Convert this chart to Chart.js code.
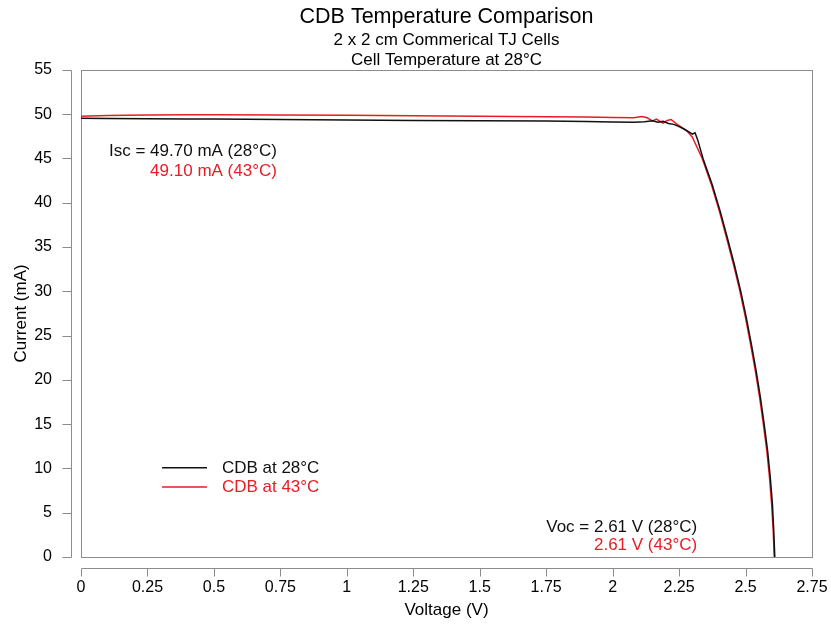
<!DOCTYPE html>
<html><head><meta charset="utf-8">
<script src="https://cdn.jsdelivr.net/npm/chart.js@4.4.0/dist/chart.umd.min.js"></script>
<style>html,body{margin:0;padding:0;background:#fff;}</style>
</head><body>
<canvas id="c" width="831" height="627"></canvas>
<script>
const xTicks = [0,0.25,0.5,0.75,1,1.25,1.5,1.75,2,2.25,2.5,2.75];
const yTicks = [0,5,10,15,20,25,30,35,40,45,50,55];
const seriesLabels = ['CDB at 28°C','CDB at 43°C'];
const seriesColors = ['#111111','rgb(232,28,36)'];
const v28 = [0,0.1,0.25,0.4,0.5,0.75,1.0,1.25,1.5,1.75,1.9,2.0,2.08,2.12,2.15,2.17,2.19,2.21,2.23,2.25,2.27,2.29,2.30,2.31,2.32,2.34,2.375,2.405,2.432,2.458,2.482,2.503,2.522,2.540,2.556,2.570,2.583,2.593,2.601,2.606,2.610];
const i28 = [49.55,49.52,49.5,49.47,49.45,49.4,49.35,49.3,49.27,49.22,49.18,49.12,49.1,49.15,49.25,49.1,49.2,48.95,48.85,48.6,48.3,47.95,47.75,47.9,47.1,45.0,42.0,39.0,36.0,33.0,30.0,27.0,24.0,21.0,18.0,15.0,12.0,9.0,6.0,3.0,0];
const v43 = [0,0.1,0.25,0.4,0.5,0.75,1.0,1.25,1.5,1.75,1.9,2.0,2.08,2.11,2.13,2.15,2.165,2.18,2.19,2.205,2.22,2.24,2.26,2.28,2.30,2.317,2.337,2.372,2.402,2.429,2.455,2.479,2.500,2.519,2.537,2.553,2.567,2.580,2.590,2.598,2.604,2.608];
const i43 = [49.77,49.85,49.9,49.95,49.95,49.92,49.88,49.83,49.78,49.72,49.68,49.62,49.6,49.75,49.6,49.25,49.45,49.15,49.0,49.3,49.4,48.9,48.5,48.1,47.4,46.3,45.0,42.0,39.0,36.0,33.0,30.0,27.0,24.0,21.0,18.0,15.0,12.0,9.0,6.0,3.0,0];
const titleText = 'CDB Temperature Comparison';
const subtitleLines = ['2 x 2 cm Commerical TJ Cells','Cell Temperature at 28°C'];
const iscLines = ['Isc = 49.70 mA (28°C)','49.10 mA (43°C)'];
const vocLines = ['Voc = 2.61 V (28°C)','2.61 V (43°C)'];
const FONT = "'Liberation Sans', Arial, sans-serif";

const pts = (xs, ys) => xs.map((x, k) => ({x, y: ys[k]}));

const framePlugin = {
  id: 'frame',
  beforeDatasetsDraw(chart) {
    const {ctx, chartArea: a, scales: {x, y}} = chart;
    ctx.save();
    ctx.strokeStyle = '#8c8c8c';
    ctx.lineWidth = 1;
    ctx.strokeRect(Math.round(a.left) + 0.5, Math.round(a.top) + 0.5, Math.round(a.right - a.left), Math.round(a.bottom - a.top));
    ctx.beginPath();
    const ax = Math.round(a.left) - 9.5;
    const y0 = Math.round(y.getPixelForValue(yTicks[0])) + 0.5;
    const y1 = Math.round(y.getPixelForValue(yTicks[yTicks.length - 1])) + 0.5;
    ctx.moveTo(ax, y0); ctx.lineTo(ax, y1);
    yTicks.forEach(t => { const py = Math.round(y.getPixelForValue(t)) + 0.5; ctx.moveTo(ax, py); ctx.lineTo(ax - 9, py); });
    const ay = Math.round(a.bottom) + 11.5;
    const x0 = Math.round(x.getPixelForValue(xTicks[0])) + 0.5;
    const x1 = Math.round(x.getPixelForValue(xTicks[xTicks.length - 1])) + 0.5;
    ctx.moveTo(x0, ay); ctx.lineTo(x1, ay);
    xTicks.forEach(t => { const px = Math.round(x.getPixelForValue(t)) + 0.5; ctx.moveTo(px, ay); ctx.lineTo(px, ay + 8); });
    ctx.stroke();
    ctx.restore();
  },
  afterDatasetsDraw(chart) {
    const {ctx, scales: {x, y}} = chart;
    ctx.save();
    ctx.font = '17px ' + FONT;
    ctx.textBaseline = 'middle';
    ctx.textAlign = 'right';
    ctx.fillStyle = seriesColors[0];
    ctx.fillText(iscLines[0], x.getPixelForValue(0.737), y.getPixelForValue(45.8));
    ctx.fillStyle = seriesColors[1];
    ctx.fillText(iscLines[1], x.getPixelForValue(0.737), y.getPixelForValue(43.6));
    ctx.fillStyle = seriesColors[0];
    ctx.fillText(vocLines[0], x.getPixelForValue(2.318), y.getPixelForValue(3.4));
    ctx.fillStyle = seriesColors[1];
    ctx.fillText(vocLines[1], x.getPixelForValue(2.318), y.getPixelForValue(1.36));
    const legY = [10.07, 7.9];
    ctx.textAlign = 'left';
    chart.data.datasets.forEach((ds, k) => {
      const py = y.getPixelForValue(legY[k]);
      ctx.strokeStyle = ds.borderColor;
      ctx.lineWidth = 1.5;
      ctx.beginPath();
      ctx.moveTo(x.getPixelForValue(0.305), py);
      ctx.lineTo(x.getPixelForValue(0.474), py);
      ctx.stroke();
      ctx.fillStyle = ds.borderColor;
      ctx.fillText(ds.label, x.getPixelForValue(0.530), py);
    });
    ctx.restore();
  }
};

new Chart(document.getElementById('c'), {
  type: 'line',
  data: {
    datasets: [
      {label: seriesLabels[0], data: pts(v28, i28), borderColor: seriesColors[0], borderWidth: 1.5, pointRadius: 0, tension: 0, fill: false},
      {label: seriesLabels[1], data: pts(v43, i43), borderColor: seriesColors[1], borderWidth: 1.5, pointRadius: 0, tension: 0, fill: false}
    ]
  },
  options: {
    responsive: false,
    animation: false,
    devicePixelRatio: 1,
    layout: {padding: {left: 0, right: 19, top: 0, bottom: 0}},
    plugins: {
      legend: {display: false},
      tooltip: {enabled: false},
      title: {display: true, text: titleText, fullSize: false, color: '#000', font: {family: FONT, size: 21.5, weight: 'normal', lineHeight: 1.2}, padding: {top: 4, bottom: 0}},
      subtitle: {display: true, text: subtitleLines, fullSize: false, color: '#000', font: {family: FONT, size: 17, weight: 'normal', lineHeight: 1.18}, padding: {top: 0, bottom: 0}}
    },
    scales: {
      x: {
        type: 'linear', min: 0, max: 2.75,
        afterBuildTicks: s => { s.ticks = xTicks.map(v => ({value: v})); },
        afterFit: s => { s.height = 70; s.paddingLeft = 0; s.paddingRight = 0; },
        ticks: {callback: v => String(v), color: '#000', font: {family: FONT, size: 16}, padding: 21, maxRotation: 0, autoSkip: false},
        grid: {display: false, drawTicks: false},
        border: {display: false},
        title: {display: true, text: 'Voltage (V)', color: '#000', font: {family: FONT, size: 17}, padding: {top: 0, bottom: 6}}
      },
      y: {
        type: 'linear', min: 0, max: 55,
        afterBuildTicks: s => { s.ticks = yTicks.map(v => ({value: v})); },
        afterFit: s => { s.width = 81; s.paddingTop = 0; s.paddingBottom = 0; },
        ticks: {callback: v => String(v), color: '#000', font: {family: FONT, size: 16}, padding: 29, autoSkip: false},
        grid: {display: false, drawTicks: false},
        border: {display: false},
        title: {display: true, text: 'Current (mA)', color: '#000', font: {family: FONT, size: 17}, padding: {top: 11, bottom: 0}}
      }
    }
  },
  plugins: [framePlugin]
});
</script>
</body></html>
